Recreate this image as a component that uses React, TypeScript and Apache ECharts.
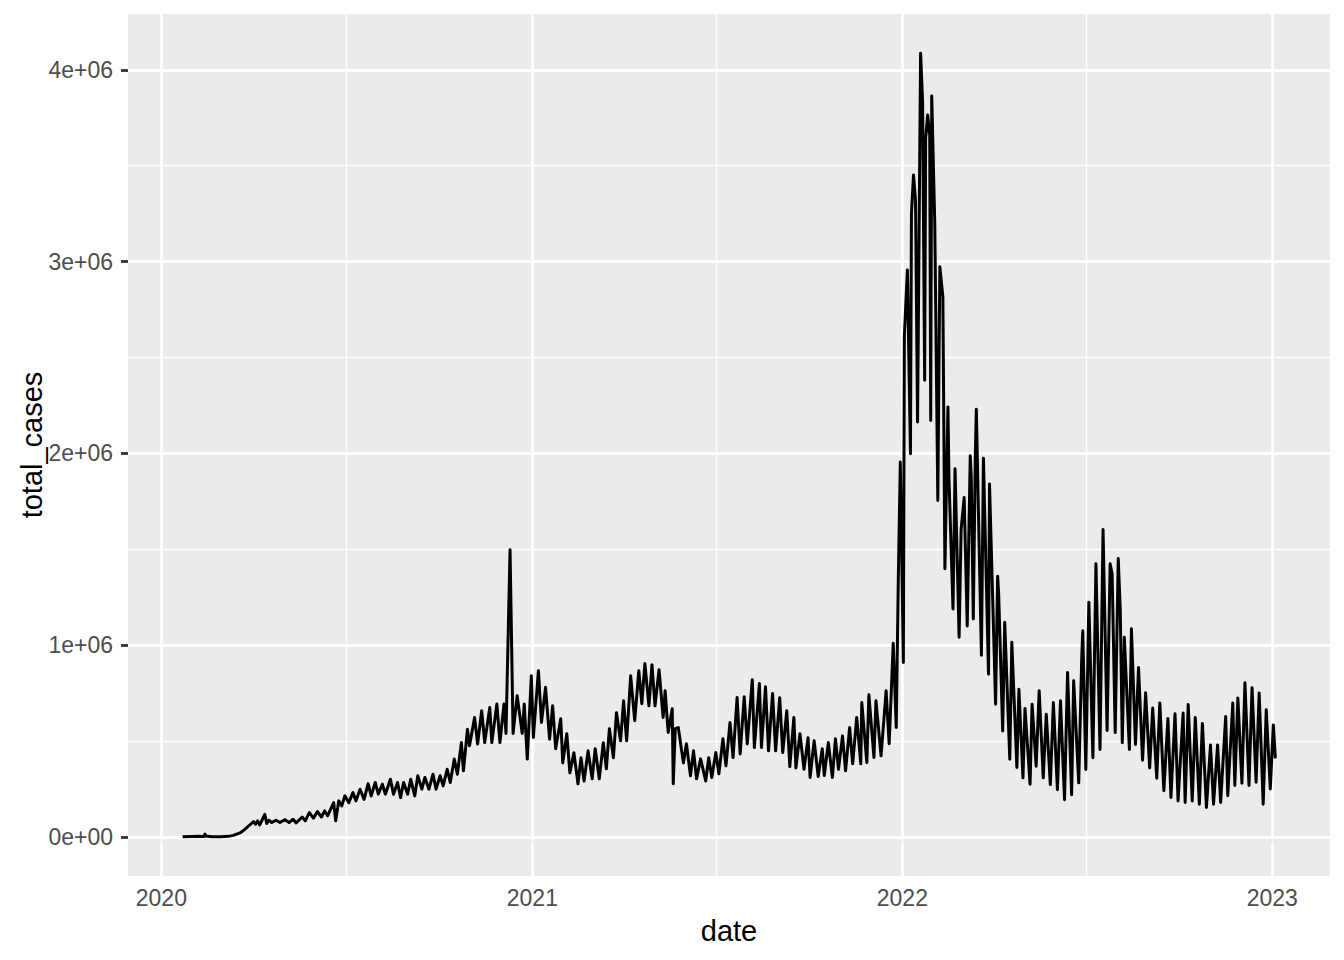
import React, { useEffect, useRef } from "react";
import * as echarts from "echarts";

// Daily reported cases.
// Each entry: [day of year (0 = 1 January), cases in thousands]
const cases2020: [number, number][] = [
  [21, 0.6], [30, 2], [36, 3.5], [42, 2.5], [43, 15], [44, 5], [50, 1], [58, 1.5], [66, 3], [71, 8],
  [75, 16], [78, 22], [82, 38], [86, 57], [91, 80], [93, 66], [95, 84], [97, 63], [99, 84], [102, 118],
  [104, 70], [106, 87], [109, 75], [113, 87], [117, 75], [122, 90], [126, 75], [130, 92], [133, 73], [139, 104],
  [142, 84], [146, 127], [150, 98], [154, 132], [158, 104], [161, 136], [164, 110], [170, 179], [172, 84], [175, 188],
  [178, 162], [181, 214], [185, 179], [189, 231], [192, 188], [196, 249], [200, 196], [204, 278], [207, 214], [211, 284],
  [214, 223], [218, 275], [221, 223], [226, 301], [229, 223], [233, 284], [236, 205], [239, 284], [243, 223], [246, 301],
  [250, 214], [253, 319], [257, 249], [260, 310], [264, 249], [268, 327], [271, 249], [275, 319], [278, 266], [282, 353],
  [285, 284], [289, 406], [292, 327], [296, 492], [298, 345], [302, 562], [304, 475], [309, 623], [312, 484], [316, 658],
  [319, 492], [324, 675], [326, 492], [331, 693], [334, 492], [338, 693], [340, 540], [344, 1497], [347, 540], [351, 736],
  [356, 540], [358, 693], [361, 406], [365, 841],
];

const cases2021: [number, number][] = [
  [1, 519], [6, 867], [9, 597], [13, 780], [17, 510], [20, 684], [23, 460], [28, 616], [30, 386], [34, 538],
  [37, 334], [41, 439], [45, 277], [48, 413], [51, 292], [55, 449], [59, 303], [62, 460], [66, 303], [70, 491],
  [73, 355], [76, 564], [80, 413], [83, 648], [87, 501], [90, 710], [93, 501], [97, 840], [101, 606], [105, 867],
  [108, 695], [111, 905], [115, 684], [118, 898], [121, 684], [125, 872], [129, 623], [131, 762], [134, 545], [138, 668],
  [139, 277], [141, 564], [144, 570], [149, 386], [152, 486], [156, 319], [159, 449], [162, 303], [166, 407], [171, 292],
  [174, 413], [177, 310], [181, 440], [184, 329], [188, 512], [191, 371], [195, 597], [198, 414], [202, 727], [205, 433],
  [209, 731], [212, 485], [217, 820], [219, 466], [224, 800], [226, 466], [230, 783], [233, 449], [237, 748], [240, 449],
  [244, 726], [247, 440], [251, 658], [254, 366], [258, 623], [260, 360], [264, 538], [268, 353], [272, 517], [274, 310],
  [278, 501], [282, 315], [286, 460], [288, 320], [292, 492], [296, 310], [299, 512], [302, 353], [306, 527], [309, 345],
  [313, 571], [316, 381], [320, 623], [324, 381], [325, 701], [330, 388], [332, 741], [337, 414], [339, 710], [344, 423],
  [349, 762], [352, 486], [356, 1010], [359, 571], [361, 1337], [363, 1955],
];

const cases2022: [number, number][] = [
  [1, 910], [2, 2616], [5, 2956], [8, 1998], [9, 3250], [11, 3452], [13, 3321], [15, 2164], [18, 4087], [20, 3835],
  [22, 2381], [23, 3643], [25, 3765], [27, 3660], [28, 2172], [29, 3864], [32, 3200], [35, 1755], [37, 2973], [40, 2816],
  [42, 1398], [45, 2242], [46, 1870], [50, 1189], [52, 1920], [56, 1041], [58, 1605], [61, 1770], [64, 1100], [67, 1988],
  [68, 1875], [70, 1136], [72, 1990], [73, 2230], [78, 947], [80, 1975], [85, 849], [86, 1840], [92, 692], [94, 1360],
  [95, 1270], [99, 553], [101, 1120], [106, 405], [108, 1015], [113, 362], [115, 770], [119, 308], [121, 670], [126, 275],
  [128, 692], [132, 369], [135, 762], [139, 308], [142, 640], [146, 273], [149, 701], [153, 246], [156, 710], [160, 194],
  [163, 858], [167, 220], [169, 815], [174, 282], [177, 936], [178, 1075], [181, 352], [184, 1224], [188, 413], [191, 1425],
  [195, 456], [198, 1603], [202, 555], [205, 1425], [207, 1370], [210, 544], [213, 1452], [215, 1180], [217, 491], [219, 1041],
  [224, 456], [226, 1085], [230, 482], [233, 883], [237, 400], [240, 752], [244, 360], [247, 672], [251, 306], [254, 699],
  [258, 241], [262, 618], [265, 206], [269, 642], [272, 188], [277, 646], [279, 180], [282, 690], [286, 188], [289, 623],
  [293, 171], [296, 592], [300, 154], [304, 479], [307, 171], [311, 479], [314, 180], [319, 628], [321, 215], [326, 699],
  [328, 268], [331, 725], [335, 280], [338, 804], [342, 268], [345, 778], [349, 285], [352, 751], [356, 171], [359, 663],
  [363, 250],
];

const cases2023: [number, number][] = [
  [1, 584], [3, 410],
];

const yearlyCases: [number, [number, number][]][] = [
  [2020, cases2020],
  [2021, cases2021],
  [2022, cases2022],
  [2023, cases2023],
];

// Axis breaks (ggplot2 defaults for this range)
const xMajorBreaks = ["2020-01-01", "2021-01-01", "2022-01-01", "2023-01-01"];
const xMinorBreaks = ["2020-07-01", "2021-07-01", "2022-07-01"];
const yMajorBreaks = [0, 1e6, 2e6, 3e6, 4e6];
const yMinorBreaks = [0.5e6, 1.5e6, 2.5e6, 3.5e6];

const xTitle = "date";
const yTitle = "total_cases";

const FONT = "'Liberation Sans', Arial, Helvetica, sans-serif";

function sci(v: number): string {
  if (v === 0) return "0e+00";
  const e = Math.floor(Math.log10(Math.abs(v)));
  const m = Math.round((v / Math.pow(10, e)) * 1000) / 1000;
  return `${m}e${e < 0 ? "-" : "+"}${String(Math.abs(e)).padStart(2, "0")}`;
}

export default function App() {
  const ref = useRef<HTMLDivElement | null>(null);

  useEffect(() => {
    if (!ref.current) return;
    const chart = echarts.init(ref.current, undefined, { renderer: "svg" });

    const seriesData: [number, number][] = [];
    yearlyCases.forEach(([year, rows]) => {
      rows.forEach(([doy, k]) => {
        seriesData.push([Date.UTC(year, 0, 1 + doy), k * 1000]);
      });
    });

    const xs = seriesData.map((d) => d[0]);
    const ys = seriesData.map((d) => d[1]);
    const xLo = Math.min(...xs);
    const xHi = Math.max(...xs);
    const yLo = Math.min(...ys);
    const yHi = Math.max(...ys);
    const xPad = (xHi - xLo) * 0.05;
    const yPad = (yHi - yLo) * 0.05;

    const xMajorTs = xMajorBreaks.map((s) => Date.parse(s));
    const xMinorTs = xMinorBreaks.map((s) => Date.parse(s));

    const majorStyle = { color: "#FFFFFF", width: 2.8, type: "solid" as const };
    const minorStyle = { color: "#FFFFFF", width: 1.4, type: "solid" as const };

    const gridLines = [
      ...xMinorTs.map((v) => ({ xAxis: v, lineStyle: minorStyle })),
      ...yMinorBreaks.map((v) => ({ yAxis: v, lineStyle: minorStyle })),
      ...xMajorTs.map((v) => ({ xAxis: v, lineStyle: majorStyle })),
      ...yMajorBreaks.map((v) => ({ yAxis: v, lineStyle: majorStyle })),
    ];

    chart.setOption({
      animation: false,
      backgroundColor: "#FFFFFF",
      textStyle: { fontFamily: FONT },
      grid: {
        left: 128,
        right: 14,
        top: 14,
        bottom: 84,
        show: true,
        backgroundColor: "#EBEBEB",
        borderWidth: 0,
        containLabel: false,
      },
      xAxis: {
        type: "value",
        min: xLo - xPad,
        max: xHi + xPad,
        name: xTitle,
        nameLocation: "middle",
        nameGap: 40,
        nameTextStyle: { fontSize: 29, color: "#000000", fontFamily: FONT },
        axisLine: { show: false },
        splitLine: { show: false },
        minorSplitLine: { show: false },
        axisTick: {
          show: true,
          customValues: xMajorTs,
          length: 7,
          inside: false,
          lineStyle: { color: "#333333", width: 2.8 },
        },
        axisLabel: {
          customValues: xMajorTs,
          formatter: (v: number) => String(new Date(v).getUTCFullYear()),
          fontSize: 23,
          color: "#4D4D4D",
          fontFamily: FONT,
          margin: 10,
          hideOverlap: false,
        },
      },
      yAxis: {
        type: "value",
        min: yLo - yPad,
        max: yHi + yPad,
        name: yTitle,
        nameLocation: "middle",
        nameGap: 82,
        nameMoveOverlap: false,
        nameRotate: 90,
        nameTextStyle: { fontSize: 29, color: "#000000", fontFamily: FONT },
        axisLine: { show: false },
        splitLine: { show: false },
        minorSplitLine: { show: false },
        axisTick: {
          show: true,
          customValues: yMajorBreaks,
          length: 7,
          inside: false,
          lineStyle: { color: "#333333", width: 2.8 },
        },
        axisLabel: {
          customValues: yMajorBreaks,
          formatter: (v: number) => sci(v),
          fontSize: 23,
          color: "#4D4D4D",
          fontFamily: FONT,
          margin: 15,
          hideOverlap: false,
        },
      },
      series: [
        {
          name: "grid",
          type: "line",
          data: [],
          silent: true,
          z: 1,
          markLine: {
            z: 1,
            silent: true,
            symbol: ["none", "none"],
            label: { show: false },
            emphasis: { disabled: true },
            animation: false,
            data: gridLines,
          },
        },
        {
          name: "total_cases",
          type: "line",
          data: seriesData,
          z: 10,
          showSymbol: false,
          symbol: "none",
          silent: true,
          lineStyle: { color: "#000000", width: 3, join: "round", cap: "butt" },
        },
      ],
    });

    return () => {
      chart.dispose();
    };
  }, []);

  return (
    <div
      ref={ref}
      style={{ position: "absolute", left: 0, top: 0, width: 1344, height: 960 }}
    />
  );
}
